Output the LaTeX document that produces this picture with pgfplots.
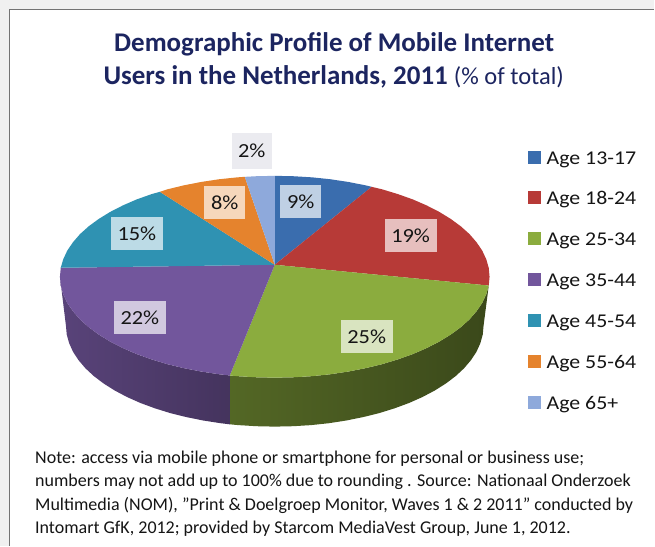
\documentclass[border=0pt]{standalone}
\usepackage{pgfplots}
\pgfplotsset{compat=1.18}
\usepackage{fontspec}
\setmainfont{Carlito}
\newfontfamily\wide[FakeStretch=1.12]{Carlito}
\definecolor{cblue}{HTML}{3A6DAE}
\definecolor{cred}{HTML}{B73A37}
\definecolor{cgreen}{HTML}{8BAC3E}
\definecolor{cpurple}{HTML}{72569C}
\definecolor{cteal}{HTML}{2F92B2}
\definecolor{corange}{HTML}{E5832D}
\definecolor{clight}{HTML}{8EA9DB}
\definecolor{cnavy}{HTML}{1C2560}
\definecolor{ctext}{HTML}{151515}
\begin{document}
\begin{tikzpicture}
\begin{axis}[
  scale only axis, width=655pt, height=546pt,
  xmin=0, xmax=655, ymin=0, ymax=546, y dir=reverse,
  axis lines=none, clip=false,
  legend image code/.code={\fill[#1] (0pt,-3.5pt) rectangle (13pt,9.5pt);},
  legend cell align=left,
  legend style={at={(axis cs:528,150)}, anchor=north west, draw=none, fill=none,
    inner sep=0pt, row sep=20.9pt, column sep=6pt,
    nodes={inner sep=0pt, text height=14pt, text depth=6pt, font=\fontsize{19.5}{20}\wide\color{ctext}}},
]
% page and card
\addplot[forget plot, draw=none, fill=black!6] coordinates {(0,0) (655,0) (655,546) (0,546)} -- cycle;
\addplot[forget plot, draw=none, fill=white] coordinates {(9.5,546) (9.5,9.5) (655,9.5) (655,546)} -- cycle;
\addplot[forget plot, draw=black!55, line width=1.2pt] coordinates {(9.5,546) (9.5,9.5) (655,9.5)};
% sides
\addplot[forget plot, draw=none, left color=cgreen!60!black, right color=cgreen!42!black] coordinates {
 (489.2,285.8) (486.7,294.5) (482.7,303.1) (477.0,311.5) (469.9,319.7) (461.2,327.5) (451.1,334.9) (439.7,341.9)
 (427.0,348.4) (413.2,354.4) (398.3,359.7) (382.5,364.5) (365.9,368.5) (348.5,371.9) (330.6,374.6) (312.3,376.5)
 (293.7,377.6) (275,378) (256.3,377.6) (237.7,376.5) (230,375.8)
 (230,424.7) (238.7,425.5) (256.8,426.6) (275,427) (293.2,426.6) (311.3,425.5) (329.1,423.6) (346.5,420.9)
 (363.3,417.5) (379.5,413.5) (394.9,408.7) (409.3,403.4) (422.8,397.4) (435.1,390.9) (446.2,383.9) (456,376.5)
 (464.4,368.7) (471.4,360.5) (476.9,352.1) (480.8,343.5) (483.2,334.8) (484,326)
} -- cycle;
\addplot[forget plot, draw=none, left color=cpurple!78!black, right color=cpurple!60!black] coordinates {
 (230,375.8) (219.4,374.6) (201.5,371.9) (184.1,368.5) (167.5,364.5) (151.7,359.7) (136.8,354.4) (123.0,348.4)
 (110.3,341.9) (98.9,334.9) (88.8,327.5) (80.1,319.7) (73.0,311.5) (67.3,303.1) (63.3,294.5) (60.8,285.8) (60,277)
 (66,326) (66.8,334.8) (69.2,343.5) (73.1,352.1) (78.6,360.5) (85.6,368.7) (94,376.5) (103.8,383.9) (114.9,390.9)
 (127.2,397.4) (140.7,403.4) (155.1,408.7) (170.5,413.5) (186.7,417.5) (203.5,420.9) (220.9,423.6) (230,424.7)
} -- cycle;
% top face
\addplot[draw=none, fill=cblue] coordinates {
 (275,265) (275,176) (293.7,176.4) (312.3,177.5) (330.6,179.4) (348.5,182.1) (365.9,185.5) (372,187)} -- cycle;
\addlegendentry{Age 13-17}
\addplot[draw=none, fill=cred] coordinates {
 (275,265) (372,187) (382.5,189.5) (398.3,194.3) (413.2,199.6) (427.0,205.6) (439.7,212.1) (451.1,219.1) (461.2,226.5)
 (469.9,234.3) (477.0,242.5) (482.7,250.9) (486.7,259.5) (489.2,268.2) (490,277) (489.2,285.8)} -- cycle;
\addlegendentry{Age 18-24}
\addplot[draw=none, fill=cgreen] coordinates {
 (275,265) (489.2,285.8) (486.7,294.5) (482.7,303.1) (477.0,311.5) (469.9,319.7) (461.2,327.5) (451.1,334.9) (439.7,341.9)
 (427.0,348.4) (413.2,354.4) (398.3,359.7) (382.5,364.5) (365.9,368.5) (348.5,371.9) (330.6,374.6) (312.3,376.5)
 (293.7,377.6) (275,378) (256.3,377.6) (237.7,376.5) (230,375.8)} -- cycle;
\addlegendentry{Age 25-34}
\addplot[draw=none, fill=cpurple] coordinates {
 (275,265) (230,375.8) (219.4,374.6) (201.5,371.9) (184.1,368.5) (167.5,364.5) (151.7,359.7) (136.8,354.4) (123.0,348.4)
 (110.3,341.9) (98.9,334.9) (88.8,327.5) (80.1,319.7) (73.0,311.5) (67.3,303.1) (63.3,294.5) (60.8,285.8) (60,277) (60.8,268)} -- cycle;
\addlegendentry{Age 35-44}
\addplot[draw=none, fill=cteal] coordinates {
 (275,265) (60.8,268) (63.3,259.5) (67.3,250.9) (73.0,242.5) (80.1,234.3) (88.8,226.5) (98.9,219.1) (110.3,212.1)
 (123.0,205.6) (136.8,199.6) (151.7,194.3) (160,192)} -- cycle;
\addlegendentry{Age 45-54}
\addplot[draw=none, fill=corange] coordinates {
 (275,265) (160,192) (167.5,189.5) (184.1,185.5) (201.5,182.1) (219.4,179.4) (237.7,177.5) (245,177)} -- cycle;
\addlegendentry{Age 55-64}
\addplot[draw=none, fill=clight] coordinates {
 (275,265) (245,177) (256.3,176.4) (275,176)} -- cycle;
\addlegendentry{Age 65+}
% value labels
\tikzset{pct/.style={fill=white, fill opacity=0.68, text opacity=1, inner sep=0pt, minimum height=33pt,
  align=center, text=ctext, font=\fontsize{20}{22}\wide}}
\node[pct, minimum width=41pt] at (axis cs:301,202) {9\%};
\node[pct, minimum width=52pt] at (axis cs:411,236) {19\%};
\node[pct, minimum width=52pt] at (axis cs:367,337) {25\%};
\node[pct, minimum width=52pt] at (axis cs:140,318) {22\%};
\node[pct, minimum width=52pt] at (axis cs:137,233.5) {15\%};
\node[pct, minimum width=41pt] at (axis cs:225,203) {8\%};
\node[inner sep=0pt, minimum width=40pt, minimum height=36pt, fill=blue!25!black!8, text=ctext, font=\fontsize{20}{22}\wide] at (axis cs:252,151) {2\%};
% title
\node[anchor=center, text=cnavy, font=\fontsize{27}{30}\bfseries\selectfont] at (axis cs:334.5,44) {Demographic Profile of Mobile Internet};
\node[anchor=center, text=cnavy, font=\fontsize{27}{30}\selectfont] at (axis cs:334,77) {\textbf{Users in the Netherlands, 2011} {\fontsize{24.5}{26}\selectfont (\% of total)}};
% note
\tikzset{note/.style={anchor=base west, inner sep=0pt, text=ctext, font=\fontsize{18}{20}\selectfont}}
\node[note] at (axis cs:35,463.5) {Note: access via mobile phone or smartphone for personal or business use;};
\node[note] at (axis cs:35,487) {numbers may not add up to 100\% due to rounding . Source: Nationaal Onderzoek};
\node[note] at (axis cs:35,510.5) {Multimedia (NOM), "Print \& Doelgroep Monitor, Waves 1 \& 2 2011" conducted by};
\node[note] at (axis cs:35,534) {Intomart GfK, 2012; provided by Starcom MediaVest Group, June 1, 2012.};
\end{axis}
\end{tikzpicture}
\end{document}
